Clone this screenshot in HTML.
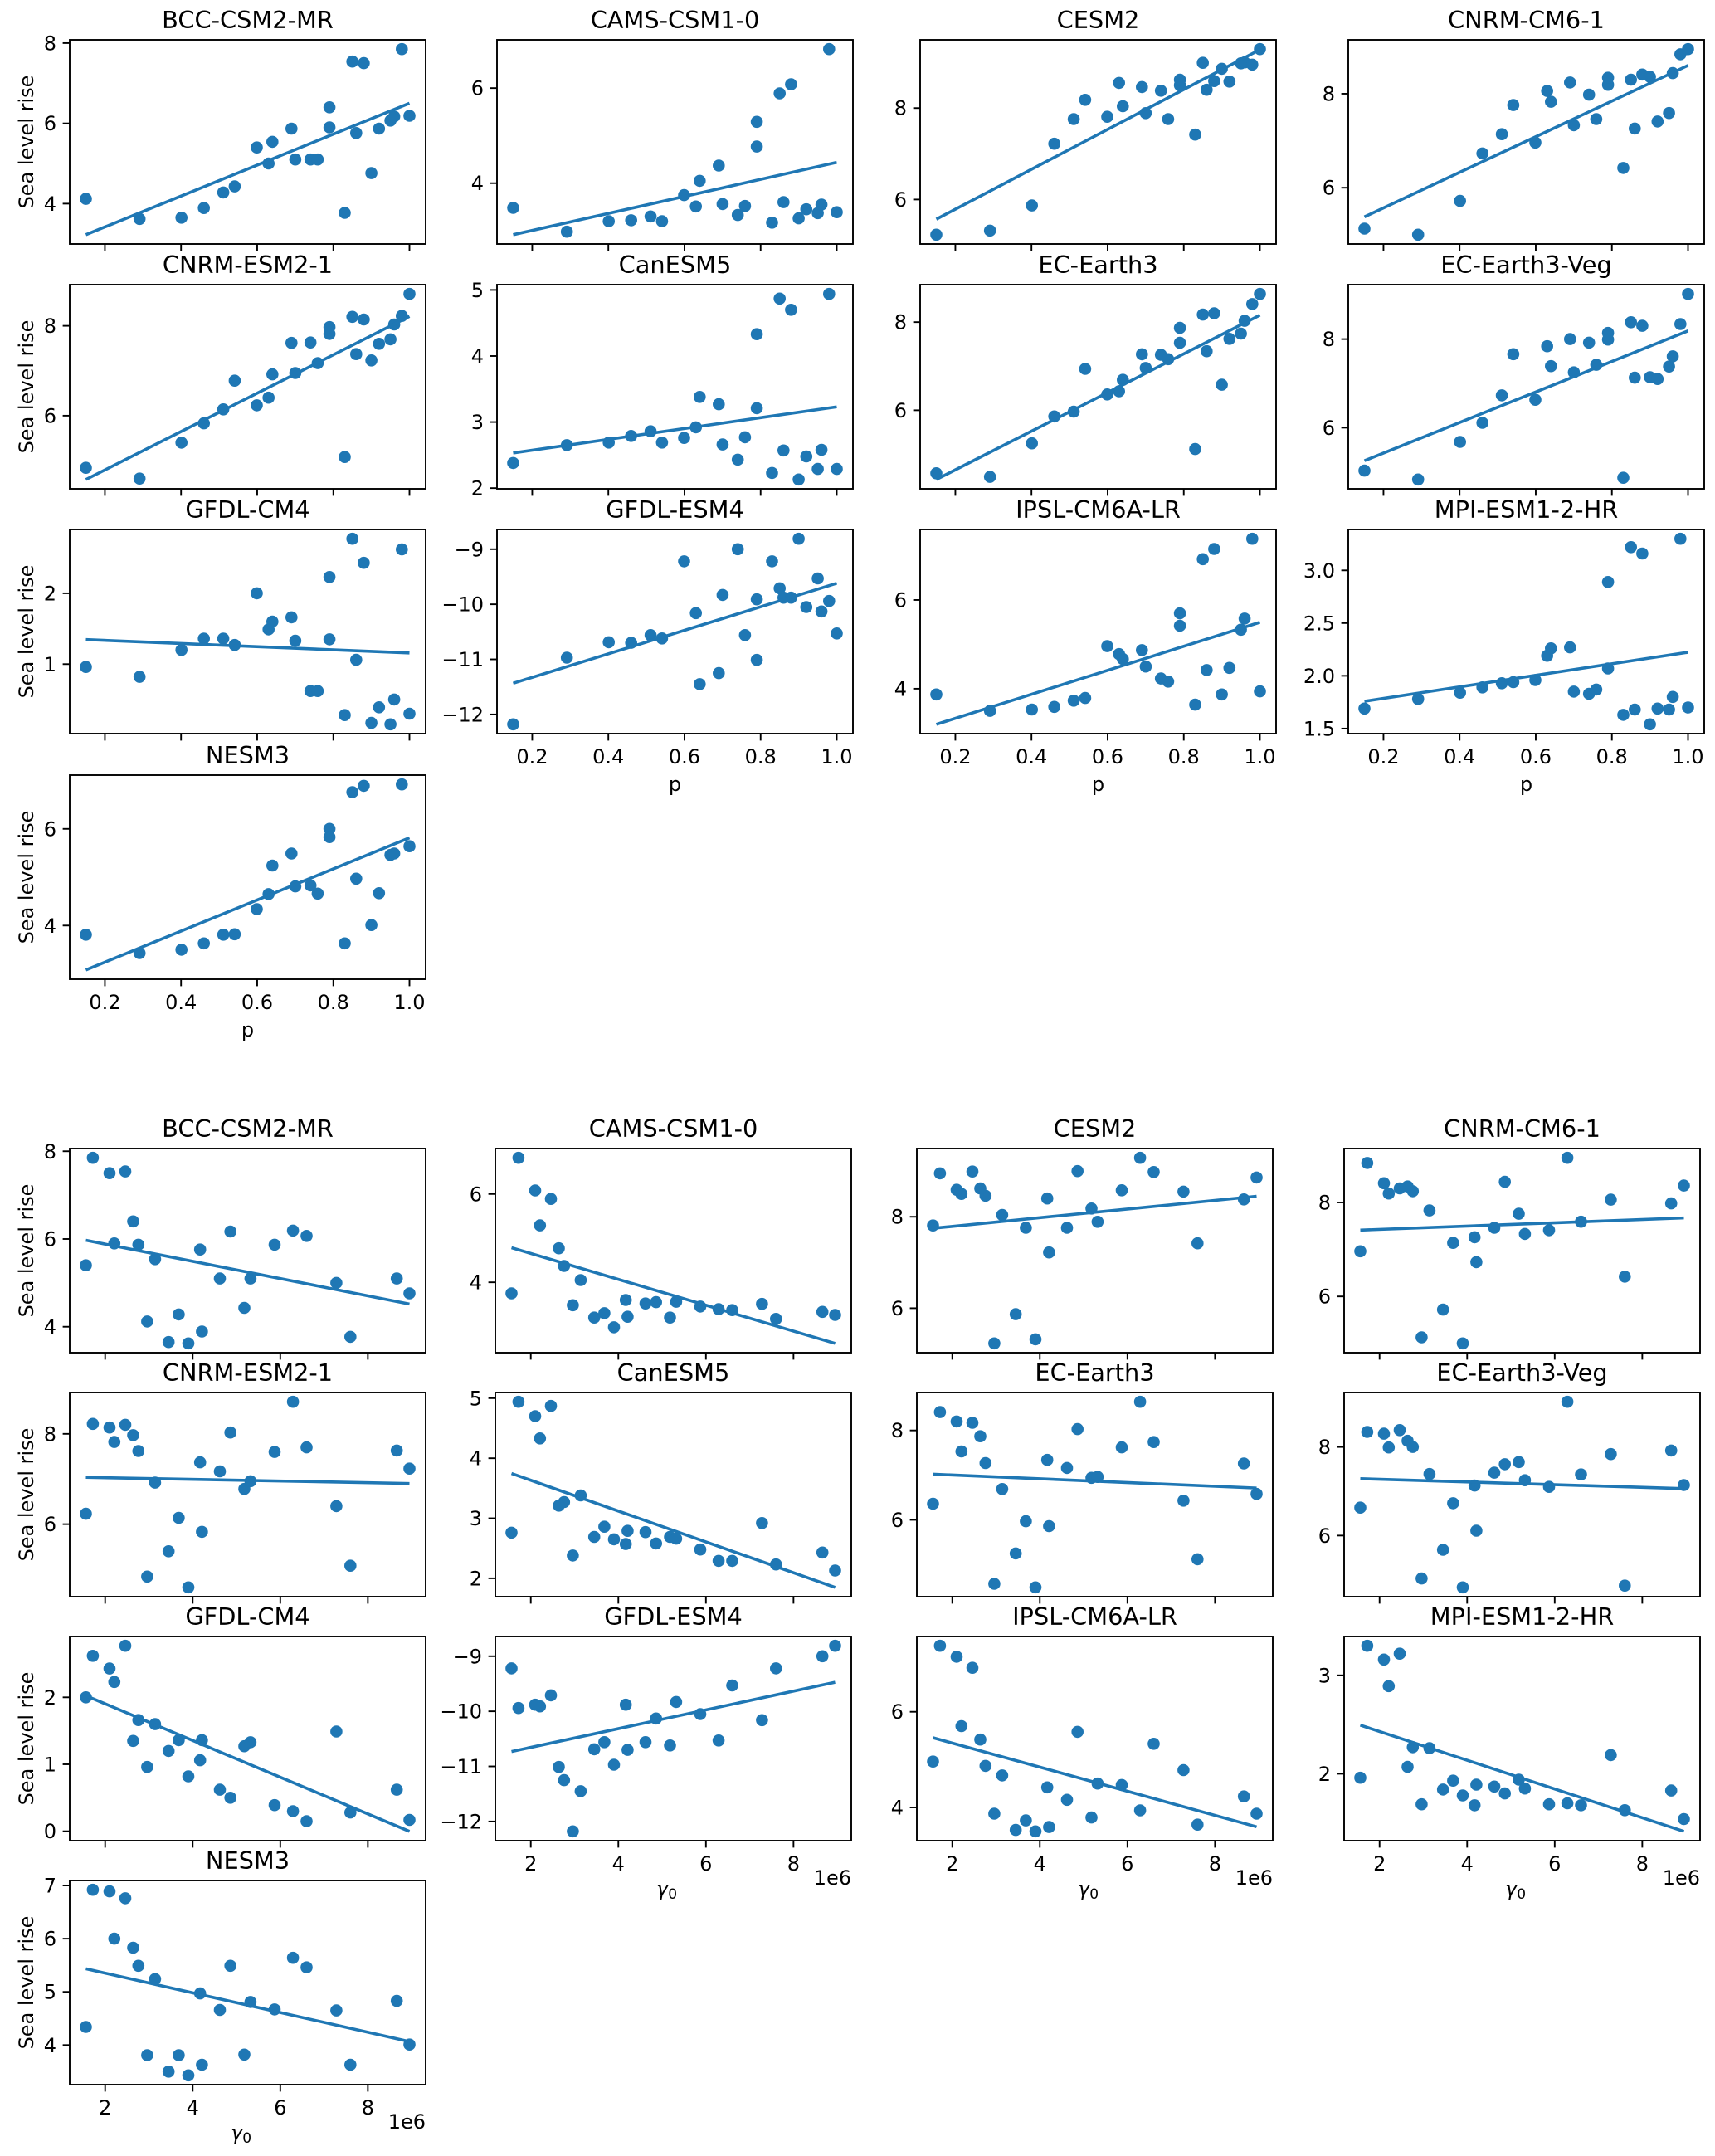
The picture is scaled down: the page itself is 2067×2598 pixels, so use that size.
<!DOCTYPE html>
<html><head><meta charset="utf-8"><title>Sea level rise scatter panels</title>
<style>
html,body{margin:0;padding:0;background:#fff;}
svg{display:block;font-family:"DejaVu Sans","Liberation Sans",sans-serif;}
</style></head>
<body>
<svg id="fig" xmlns="http://www.w3.org/2000/svg" width="2067" height="2598" viewBox="0 0 2067 2598">
<rect x="0" y="0" width="2067" height="2598" fill="#ffffff"/>
</svg>
<script>
// shared predictors per ensemble member
const P = [0.150,0.291,0.401,0.46,0.511,0.541,0.599,0.630,0.640,0.690,0.700,0.74,0.759,0.79,0.79,0.83,0.85,0.86,0.88,0.90,0.92,0.95,0.96,0.98,1.0];
const G = [2.96,3.90,3.45,4.21,3.68,5.18,1.56,7.28,3.14,2.76,5.32,8.66,4.62,2.21,2.64,7.60,2.46,4.17,2.10,8.95,5.87,6.60,4.86,1.72,6.29];

const MODELS = ["BCC-CSM2-MR","CAMS-CSM1-0","CESM2","CNRM-CM6-1","CNRM-ESM2-1","CanESM5","EC-Earth3","EC-Earth3-Veg","GFDL-CM4","GFDL-ESM4","IPSL-CM6A-LR","MPI-ESM1-2-HR","NESM3"];

const Y_BCC   = [4.12,3.62,3.65,3.89,4.28,4.43,5.40,5.0,5.54,5.87,5.10,5.10,5.10,5.90,6.40,3.77,7.54,5.76,7.50,4.76,5.87,6.07,6.17,7.85,6.19];
const Y_CAMS  = [3.48,2.98,3.20,3.22,3.30,3.20,3.75,3.51,4.05,4.37,3.56,3.33,3.52,5.29,4.77,3.17,5.89,3.60,6.08,3.26,3.45,3.37,3.55,6.82,3.39];
const Y_CESM  = [5.23,5.32,5.87,7.22,7.76,8.18,7.81,8.55,8.04,8.46,7.89,8.38,7.76,8.50,8.62,7.42,8.99,8.40,8.59,8.86,8.58,8.98,9.0,8.95,9.29];
const Y_CNRMC = [5.13,5.0,5.72,6.73,7.14,7.76,6.96,8.06,7.83,8.24,7.33,7.98,7.46,8.19,8.34,6.42,8.30,7.26,8.41,8.36,7.41,7.59,8.44,8.84,8.95];
const Y_CNRME = [4.84,4.60,5.40,5.83,6.14,6.78,6.23,6.40,6.92,7.62,6.95,7.63,7.17,7.82,7.97,5.08,8.20,7.37,8.14,7.23,7.60,7.70,8.03,8.22,8.71];
const Y_CAN   = [2.38,2.65,2.69,2.79,2.86,2.69,2.76,2.92,3.38,3.27,2.66,2.43,2.77,4.33,3.21,2.23,4.87,2.57,4.70,2.13,2.48,2.29,2.58,4.94,2.29];
const Y_EC    = [4.57,4.49,5.25,5.86,5.97,6.94,6.36,6.43,6.69,7.27,6.96,7.26,7.16,7.53,7.87,5.12,8.17,7.34,8.20,6.58,7.62,7.74,8.03,8.41,8.64];
const Y_ECV   = [5.03,4.83,5.68,6.11,6.73,7.66,6.63,7.84,7.39,8.0,7.25,7.92,7.42,7.99,8.14,4.87,8.38,7.13,8.30,7.14,7.10,7.38,7.61,8.34,9.02];
const Y_GCM4  = [0.96,0.82,1.20,1.36,1.36,1.27,2.0,1.49,1.60,1.66,1.33,0.62,0.62,2.23,1.35,0.28,2.77,1.06,2.43,0.17,0.39,0.15,0.50,2.62,0.30];
const Y_GESM4 = [-12.18,-10.97,-10.69,-10.70,-10.56,-10.62,-9.22,-10.16,-11.45,-11.25,-9.83,-9.0,-10.56,-9.91,-11.01,-9.22,-9.71,-9.88,-9.88,-8.81,-10.05,-9.53,-10.13,-9.94,-10.53];
const Y_IPSL  = [3.87,3.50,3.53,3.59,3.73,3.79,4.96,4.78,4.67,4.87,4.50,4.23,4.16,5.70,5.42,3.64,6.92,4.42,7.15,3.87,4.47,5.33,5.58,7.38,3.94];
const Y_MPI   = [1.69,1.78,1.84,1.89,1.93,1.94,1.96,2.19,2.26,2.27,1.85,1.83,1.87,2.89,2.07,1.63,3.22,1.68,3.16,1.54,1.69,1.68,1.80,3.30,1.70];
const Y_NESM  = [3.81,3.43,3.50,3.63,3.81,3.82,4.34,4.65,5.24,5.49,4.81,4.83,4.66,6.0,5.83,3.63,6.76,4.97,6.89,4.01,4.67,5.46,5.49,6.92,5.64];
const YS = [Y_BCC,Y_CAMS,Y_CESM,Y_CNRMC,Y_CNRME,Y_CAN,Y_EC,Y_ECV,Y_GCM4,Y_GESM4,Y_IPSL,Y_MPI,Y_NESM];

const YT_TOP = [["4","6","8"],["4","6"],["6","8"],["6","8"],["6","8"],["2","3","4","5"],["6","8"],["6","8"],["0","1","2"],["−12","−11","−10","−9"],["4","6"],["1.5","2.0","2.5","3.0"],["4","6"]];
const YT_BOT = [["4","6","8"],["4","6"],["6","8"],["6","8"],["6","8"],["2","3","4","5"],["6","8"],["6","8"],["0","1","2"],["−12","−11","−10","−9"],["4","6"],["2","3"],["4","5","6","7"]];
const XT_P = ["0.2","0.4","0.6","0.8","1.0"];
const XT_G = ["2","4","6","8"];

const NS = "http://www.w3.org/2000/svg";
const svg = document.getElementById("fig");
const BLUE = "#1f77b4";
function mk(tag, attrs, parent){
  const e = document.createElementNS(NS, tag);
  for (const k in attrs) e.setAttribute(k, attrs[k]);
  (parent||svg).appendChild(e);
  return e;
}
function num(s){ return parseFloat(s.replace("−","-")); }

function panel(x0, y0, w, h, X, Y, ytl, xtl, title, showX, xlab, showY, isG){
  const g = mk("g", {});
  
  
  const n = X.length;
  let mx=0,my=0; for(let i=0;i<n;i++){mx+=X[i];my+=Y[i];} mx/=n; my/=n;
  let sxy=0,sxx=0; for(let i=0;i<n;i++){sxy+=(X[i]-mx)*(Y[i]-my);sxx+=(X[i]-mx)*(X[i]-mx);}
  const b = sxy/sxx, a = my - b*mx;
  const xmin = Math.min(...X), xmax = Math.max(...X);
  const l0 = a+b*xmin, l1 = a+b*xmax;
  let ymin = Math.min(...Y, l0, l1), ymax = Math.max(...Y, l0, l1);
  const xp = (xmax-xmin)*0.05, yp = (ymax-ymin)*0.05;
  const X0 = xmin-xp, X1 = xmax+xp, Y0 = ymin-yp, Y1 = ymax+yp;
  const sx = v => x0 + (v-X0)/(X1-X0)*w;
  const sy = v => y0 + h - (v-Y0)/(Y1-Y0)*h;

  // points
  for (let i=0;i<n;i++){
    const c = mk("circle", {cx:sx(X[i]).toFixed(1), cy:sy(Y[i]).toFixed(1), r:7.3, fill:BLUE}, g);
    
    
  }
  // regression line
  const ln = mk("line", {x1:sx(xmin), y1:sy(l0), x2:sx(xmax), y2:sy(l1), stroke:BLUE, "stroke-width":3.6}, g);
  
  
  // frame
  const fr = mk("rect", {x:x0, y:y0, width:w, height:h, fill:"none", stroke:"#000", "stroke-width":1.9}, g);
  
  
  // title
  const t = mk("text", {x:x0+w/2, y:y0-14, "text-anchor":"middle", "font-size":28.8, fill:"#000"}, g);
  t.textContent = title;
  
  
  // y ticks
  for (const s of ytl){
    const v = num(s);
    if (v < Y0 || v > Y1) continue;
    const yy = sy(v);
    const tk = mk("line", {x1:x0, x2:x0-8.4, y1:yy, y2:yy, stroke:"#000", "stroke-width":1.9}, g);
    
    
    const tl = mk("text", {x:x0-16, y:yy+8.5, "text-anchor":"end", "font-size":24, fill:"#000"}, g);
    tl.textContent = s;
    
    
  }
  // x ticks
  for (const s of xtl){
    const v = num(s);
    const xx = sx(v);
    const tk = mk("line", {x1:xx, x2:xx, y1:y0+h, y2:y0+h+8.4, stroke:"#000", "stroke-width":1.9}, g);
    
    
    if (showX){
      const tl = mk("text", {x:xx, y:y0+h+36, "text-anchor":"middle", "font-size":24, fill:"#000"}, g);
      tl.textContent = s;
      
      
    }
  }
  if (showX){
    if (isG){
      const off = mk("text", {x:x0+w, y:y0+h+53, "text-anchor":"end", "font-size":24, fill:"#000"}, g);
      off.textContent = "1e6";
      
      
      const xl = mk("text", {x:x0+w/2-8, y:y0+h+66, "text-anchor":"middle", "font-size":24, "font-style":"italic", fill:"#000"}, g);
      
      
      xl.textContent = "γ";
      const sub = mk("tspan", {"font-size":17, "font-style":"normal", dy:4}, xl);
      sub.textContent = "0";
      
      
    } else {
      const xl = mk("text", {x:x0+w/2, y:y0+h+69, "text-anchor":"middle", "font-size":24, fill:"#000"}, g);
      xl.textContent = xlab;
      
      
    }
  }
  if (showY){
    const cy = y0+h/2;
    const yl = mk("text", {x:40, y:cy, "text-anchor":"middle", "font-size":24, fill:"#000", transform:"rotate(-90 40 "+cy+")"}, g);
    yl.textContent = "Sea level rise";
    
    
  }
}

const TOP_COLS = [84, 599, 1109, 1625];
const TOP_ROWS = [48, 343, 638, 934];
const BOT_COLS = [84, 597, 1105, 1620];
const BOT_ROWS = [1384, 1678, 1972, 2266];
const W = 429, H = 246;

for (let i=0;i<MODELS.length;i++){
  const r = Math.floor(i/4), c = i%4;
  const showX = i >= 9;
  panel(TOP_COLS[c], TOP_ROWS[r], W, H, P, YS[i], YT_TOP[i], XT_P, MODELS[i], showX, "p", c===0, false);
  panel(BOT_COLS[c], BOT_ROWS[r], W, H, G, YS[i], YT_BOT[i], XT_G, MODELS[i], showX, "γ0", c===0, true);
}
</script>
</body></html>
